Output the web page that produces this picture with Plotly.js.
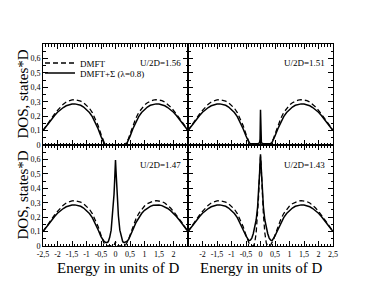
<!DOCTYPE html>
<html><head><meta charset="utf-8">
<script src="https://cdn.plot.ly/plotly-3.0.1.min.js"></script>
<style>html,body{margin:0;padding:0;background:#fff}</style>
</head><body><div id="chart" style="width:385px;height:298px"></div>
<script>
const energy = [-2.5,-2.4,-2.3,-2.2,-2.1,-2.0,-1.9,-1.8,-1.7,-1.6,-1.5,-1.4,-1.3,-1.2,-1.1,-1.0,-0.9,-0.8,-0.7,-0.6,-0.5,
  -0.45,-0.4,-0.35,-0.3,-0.25,-0.2,-0.15,-0.1,-0.07,-0.05,-0.03,-0.015,0,0.015,0.03,0.05,0.07,0.1,0.15,0.2,0.25,0.3,0.35,0.4,0.45,
  0.5,0.6,0.7,0.8,0.9,1.0,1.1,1.2,1.3,1.4,1.5,1.6,1.7,1.8,1.9,2.0,2.1,2.2,2.3,2.4,2.5];

// U/2D = 1.56
const dmft156 = [0.100,0.130,0.160,0.188,0.215,0.240,0.263,0.283,0.298,0.308,0.313,0.314,0.311,0.304,0.293,0.277,0.255,0.225,0.185,0.135,0.075,
  0.045,0.022,0.007,0,0,0,0,0,0,0,0,0,0,0,0,0,0,0,0,0,0,0,0.007,0.022,0.045,
  0.075,0.135,0.185,0.225,0.255,0.277,0.293,0.304,0.311,0.314,0.313,0.308,0.298,0.283,0.263,0.240,0.215,0.188,0.160,0.130,0.100];
const sigma156 = [0.100,0.128,0.155,0.180,0.205,0.227,0.245,0.260,0.272,0.280,0.284,0.285,0.282,0.275,0.263,0.247,0.225,0.197,0.160,0.113,0.060,
  0.035,0.015,0.003,0,0,0,0,0,0,0,0,0,0,0,0,0,0,0,0,0,0,0,0.003,0.015,0.035,
  0.060,0.113,0.160,0.197,0.225,0.247,0.263,0.275,0.282,0.285,0.284,0.280,0.272,0.260,0.245,0.227,0.205,0.180,0.155,0.128,0.100];

// U/2D = 1.51
const dmft151 = [0.100,0.130,0.160,0.188,0.215,0.240,0.263,0.283,0.298,0.308,0.313,0.314,0.311,0.304,0.293,0.277,0.255,0.225,0.185,0.135,0.075,
  0.045,0.022,0.007,0,0,0,0,0,0,0,0,0,0,0,0,0,0,0,0,0,0,0,0.007,0.022,0.045,
  0.075,0.135,0.185,0.225,0.255,0.277,0.293,0.304,0.311,0.314,0.313,0.308,0.298,0.283,0.263,0.240,0.215,0.188,0.160,0.130,0.100];
const sigma151 = [0.100,0.128,0.155,0.180,0.205,0.227,0.245,0.260,0.272,0.280,0.284,0.285,0.282,0.275,0.263,0.247,0.225,0.197,0.160,0.113,0.062,
  0.037,0.018,0.009,0.008,0.008,0.008,0.008,0.009,0.010,0.012,0.020,0.040,0.245,0.040,0.020,0.012,0.010,0.009,0.008,0.008,0.008,0.008,0.009,0.018,0.037,
  0.062,0.113,0.160,0.197,0.225,0.247,0.263,0.275,0.282,0.285,0.284,0.280,0.272,0.260,0.245,0.227,0.205,0.180,0.155,0.128,0.100];

// U/2D = 1.47
const dmft147 = [0.100,0.130,0.160,0.188,0.215,0.240,0.263,0.283,0.298,0.308,0.313,0.314,0.311,0.304,0.293,0.277,0.255,0.225,0.185,0.135,0.075,
  0.045,0.022,0.007,0,0,0,0,0,0.003,0.006,0.012,0.020,0.030,0.020,0.012,0.006,0.003,0,0,0,0,0,0.007,0.022,0.045,
  0.075,0.135,0.185,0.225,0.255,0.277,0.293,0.304,0.311,0.314,0.313,0.308,0.298,0.283,0.263,0.240,0.215,0.188,0.160,0.130,0.100];
const sigma147 = [0.100,0.128,0.155,0.180,0.205,0.227,0.245,0.260,0.272,0.280,0.284,0.285,0.282,0.275,0.263,0.247,0.225,0.197,0.160,0.113,0.065,
  0.045,0.033,0.026,0.023,0.030,0.060,0.110,0.210,0.290,0.360,0.450,0.530,0.595,0.530,0.450,0.360,0.290,0.210,0.110,0.060,0.030,0.023,0.026,0.033,0.045,
  0.065,0.113,0.160,0.197,0.225,0.247,0.263,0.275,0.282,0.285,0.284,0.280,0.272,0.260,0.245,0.227,0.205,0.180,0.155,0.128,0.100];

// U/2D = 1.43
const dmft143 = [0.100,0.130,0.160,0.188,0.215,0.240,0.263,0.283,0.298,0.308,0.313,0.314,0.311,0.304,0.293,0.277,0.255,0.225,0.185,0.135,0.075,
  0.045,0.022,0.007,0,0,0.020,0.090,0.220,0.330,0.420,0.510,0.580,0.620,0.580,0.510,0.420,0.330,0.220,0.090,0.020,0,0,0.007,0.022,0.045,
  0.075,0.135,0.185,0.225,0.255,0.277,0.293,0.304,0.311,0.314,0.313,0.308,0.298,0.283,0.263,0.240,0.215,0.188,0.160,0.130,0.100];
const sigma143 = [0.100,0.128,0.155,0.180,0.205,0.227,0.245,0.260,0.272,0.280,0.284,0.285,0.282,0.275,0.263,0.247,0.225,0.197,0.160,0.113,0.070,
  0.052,0.037,0.040,0.055,0.085,0.125,0.180,0.270,0.350,0.420,0.510,0.580,0.635,0.580,0.510,0.420,0.350,0.270,0.180,0.125,0.085,0.055,0.040,0.037,0.052,
  0.070,0.113,0.160,0.197,0.225,0.247,0.263,0.275,0.282,0.285,0.284,0.280,0.272,0.260,0.245,0.227,0.205,0.180,0.155,0.128,0.100];

const panelLabels = ['U/2D=1.56','U/2D=1.51','U/2D=1.47','U/2D=1.43'];
const seriesNames = ['DMFT','DMFT+Σ (λ=0.8)'];
const dmftSets = [dmft156, dmft151, dmft147, dmft143];
const sigmaSets = [sigma156, sigma151, sigma147, sigma143];
const xTicksLeft = [-2.5,-2,-1.5,-1,-0.5,0,0.5,1,1.5,2];
const xTextLeft = ['-2,5','-2','-1,5','-1','-0,5','0','0,5','1','1,5','2'];
const xTicksRight = [-2,-1.5,-1,-0.5,0,0.5,1,1.5,2,2.5];
const xTextRight = ['-2','-1,5','-1','-0,5','0','0,5','1','1,5','2','2,5'];
const yTicks = [0,0.1,0.2,0.3,0.4,0.5,0.6];
const yText = ['0','0,1','0,2','0,3','0,4','0,5','0,6'];

const FONT = 'Liberation Serif, Times New Roman, serif';
const traces = [];
for (let i = 0; i < 4; i++) {
  const sfx = i === 0 ? '' : String(i + 1);
  traces.push({x: energy, y: dmftSets[i], xaxis: 'x' + sfx, yaxis: 'y' + sfx, mode: 'lines',
    name: seriesNames[0], showlegend: i === 0, legend: 'legend',
    line: {color: '#000', width: 1.3, dash: '5px,3px'}, hoverinfo: 'skip'});
  traces.push({x: energy, y: sigmaSets[i], xaxis: 'x' + sfx, yaxis: 'y' + sfx, mode: 'lines',
    name: seriesNames[1], showlegend: i === 0, legend: 'legend2',
    line: {color: '#000', width: 1.5}, hoverinfo: 'skip'});
}

const W = 385, H = 298;
const xL = [43 / W, 188 / W], xR = [188 / W, 333 / W];
const yT = [1 - 145 / H, 1 - 44 / H], yB = [1 - 246 / H, 1 - 145 / H];

function xax(dom, anchor, ticks, text, labels) {
  return {domain: dom, anchor: anchor, range: [-2.5, 2.5], showline: true, linecolor: '#000', linewidth: 1,
    mirror: 'allticks', ticks: 'inside', ticklen: 5, tickcolor: '#000', tickwidth: 1, tickangle: 0,
    tickmode: 'array', tickvals: ticks, ticktext: text, showticklabels: labels, showgrid: false, zeroline: false,
    tickfont: {family: FONT, size: 8, color: '#000'},
    minor: {tickmode: 'linear', tick0: -2.5, dtick: 0.1, ticks: 'inside', ticklen: 2.5, tickcolor: '#000', showgrid: false}};
}
function yax(dom, anchor, labels) {
  return {domain: dom, anchor: anchor, range: [0, 0.7], showline: true, linecolor: '#000', linewidth: 1,
    mirror: 'allticks', ticks: 'inside', ticklen: 5, tickcolor: '#000', tickwidth: 1,
    tickmode: 'array', tickvals: yTicks, ticktext: yText, showticklabels: labels, showgrid: false, zeroline: false,
    tickfont: {family: FONT, size: 8, color: '#000'},
    minor: {tickmode: 'linear', tick0: 0, dtick: 0.05, ticks: 'inside', ticklen: 2.5, tickcolor: '#000', showgrid: false}};
}

const ann = [];
const labelPos = [[160, 63], [304, 63], [160, 165], [304, 165]];
for (let i = 0; i < 4; i++) {
  ann.push({xref: 'paper', yref: 'paper', x: labelPos[i][0] / W, y: 1 - labelPos[i][1] / H, text: panelLabels[i],
    showarrow: false, xanchor: 'center', yanchor: 'middle', font: {family: FONT, size: 9, color: '#000'}});
}
[[22, 94.5], [22, 195.5]].forEach(p => ann.push({xref: 'paper', yref: 'paper', x: p[0] / W, y: 1 - p[1] / H,
  text: 'DOS, states*D', textangle: -90, showarrow: false, xanchor: 'center', yanchor: 'middle',
  font: {family: FONT, size: 15, color: '#000'}}));
[[118, 268], [261, 268]].forEach(p => ann.push({xref: 'paper', yref: 'paper', x: p[0] / W, y: 1 - p[1] / H,
  text: 'Energy in units of D', showarrow: false, xanchor: 'center', yanchor: 'middle',
  font: {family: FONT, size: 15, color: '#000'}}));

const legStyle = {font: {family: FONT, size: 9, color: '#000'}, bgcolor: 'rgba(0,0,0,0)', borderwidth: 0,
  xanchor: 'left', yanchor: 'middle', itemwidth: 30, tracegroupgap: 0};
const layout = {
  width: W, height: H, margin: {l: 0, r: 0, t: 0, b: 0}, paper_bgcolor: '#fff', plot_bgcolor: '#fff',
  separators: ', ', font: {family: FONT, color: '#000'},
  legend: Object.assign({x: 40 / W, y: 1 - 63 / H}, legStyle),
  legend2: Object.assign({x: 40 / W, y: 1 - 73 / H}, legStyle),
  xaxis: xax(xL, 'y', xTicksLeft, xTextLeft, false),
  xaxis2: xax(xR, 'y2', xTicksRight, xTextRight, false),
  xaxis3: xax(xL, 'y3', xTicksLeft, xTextLeft, true),
  xaxis4: xax(xR, 'y4', xTicksRight, xTextRight, true),
  yaxis: yax(yT, 'x', true),
  yaxis2: yax(yT, 'x2', false),
  yaxis3: yax(yB, 'x3', true),
  yaxis4: yax(yB, 'x4', false),
  annotations: ann, showlegend: true
};
Plotly.newPlot('chart', traces, layout, {displayModeBar: false, staticPlot: true});
</script></body></html>
